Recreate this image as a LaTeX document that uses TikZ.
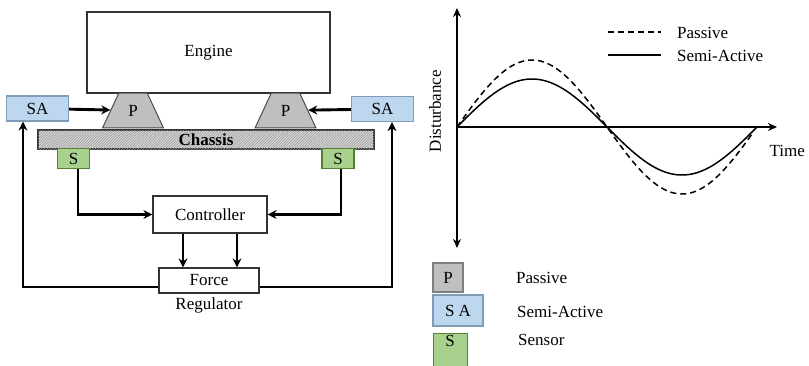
\documentclass[tikz,border=0pt]{standalone}
\usepackage{fontspec}
\setmainfont{Liberation Serif}
\usetikzlibrary{arrows.meta,shapes.geometric,patterns.meta}
\definecolor{pgray}{HTML}{BFBFBF}
\definecolor{pgrayline}{HTML}{7F7F7F}
\definecolor{sablue}{HTML}{BDD7EE}
\definecolor{sablueline}{HTML}{7F9DB9}
\definecolor{sgreen}{HTML}{A9D18E}
\definecolor{sgreenline}{HTML}{548235}
\definecolor{chassisfill}{HTML}{D4D4D4}
\begin{document}
\begin{tikzpicture}[x=1pt,y=-1pt,
  font=\fontsize{17}{20}\selectfont,
  box/.style={draw=black!80,line width=1.2pt,fill=white,inner sep=0pt,minimum width=#1},
  mount/.style={trapezium,trapezium angle=65,inner xsep=9.5pt,inner ysep=11.8pt,
    draw=black!70,line width=1pt,fill=pgray},
  sabox/.style={draw=sablueline,line width=1.2pt,fill=sablue,inner sep=0pt,
    minimum width=62pt,minimum height=25pt},
  sensbox/.style={draw=sgreenline,line width=1.2pt,fill=sgreen,inner sep=0pt,
    minimum width=32pt,minimum height=20pt},
  arr/.style={line width=2.9pt,-{Stealth[length=9pt,width=9pt]}},
  axis/.style={line width=1.8pt,-{Stealth[length=9pt,width=8pt]}},
  curve/.style={line width=1.5pt}]
\useasboundingbox (0,0) rectangle (809,365);

% ---- suspension block diagram ----
\node[box=243pt,minimum height=81pt] (engine) at (208.5,52.5) {Engine};
\node[draw=black!80,line width=1.2pt,inner sep=0pt,minimum width=336pt,minimum height=19pt,
  fill=chassisfill,
  postaction={pattern={Lines[angle=45,distance=1.9pt,line width=0.5pt]},pattern color=black!40}]
  (chassis) at (206,139.5) {};
\node[font=\fontsize{17}{20}\selectfont\bfseries] (chassislabel) at (chassis) {Chassis};
\node[mount] (pL) at (133,110.5) {P};
\node[mount] (pR) at (285.5,110.5) {P};
\node[sabox] (saL) at (37.5,108.5) {SA};
\node[sabox] (saR) at (382.5,109) {SA};
\node[sensbox] (sL) at (73.5,158.5) {S};
\node[sensbox] (sR) at (338,158.5) {S};
\node[box=114pt,minimum height=37pt] (ctrl) at (210,214.5) {Controller};
\node[box=100pt,minimum height=25pt] (force) at (209,280.5) {Force};
\node (reglabel) at (209,305) {Regulator};

\draw[arr] (saL) -- (pL);
\draw[arr] (saR) -- (pR);
\draw[arr] ([xshift=4.5pt]sL.south) |- (ctrl.west);
\draw[arr] ([xshift=3pt]sR.south) |- (ctrl.east);
\draw[arr] ([xshift=-27pt]ctrl.south) -- ([xshift=-27pt]ctrl.south |- force.north);
\draw[arr] ([xshift=27pt]ctrl.south) -- ([xshift=27pt]ctrl.south |- force.north);
\draw[arr] ([yshift=-6.5pt]force.west) -| ([xshift=-14.5pt]saL.south);
\draw[arr] ([yshift=-6.5pt]force.east) -| ([xshift=9.5pt]saR.south);

% ---- disturbance vs. time graph ----
\coordinate (origin) at (457,127);
\coordinate (ytop) at (457,8);
\coordinate (ybot) at (457,248);
\coordinate (xend) at (777,127);
\draw[axis] (origin) -- (ytop);
\draw[axis] (origin) -- (ybot);
\draw[axis] (origin) -- (xend);
\node[anchor=west] (timelabel) at (766,151) {Time};
\node[rotate=90] (distlabel) at (435,111) {Disturbance};

\draw[curve,dash pattern=on 6pt off 4pt] plot[domain=0:296,samples=120]
  ({457+\x},{127-67*sin(\x*1.2)});
\draw[curve] plot[domain=0:300,samples=120]
  ({457+\x},{127-48*sin(\x*1.2)});

% curve legend
\coordinate (lgA) at (608,32);
\coordinate (lgB) at (661,32);
\coordinate (lgC) at (608,55);
\coordinate (lgD) at (661,55);
\draw[curve,dash pattern=on 6pt off 4pt] (lgA) -- (lgB);
\draw[curve] (lgC) -- (lgD);
\node[anchor=west,inner sep=0pt] (lgpas) at (677,33) {Passive};
\node[anchor=west,inner sep=0pt] (lgsemi) at (677,56) {Semi-Active};

% symbol legend
\node[draw=pgrayline,line width=1.2pt,fill=pgray,inner sep=0pt,
  minimum width=30pt,minimum height=29pt] (keyP) at (448,277.5) {P};
\node[draw=sablueline,line width=1.2pt,fill=sablue,inner sep=0pt,
  minimum width=50pt,minimum height=31pt] (keySA) at (458,310.5) {S A};
\node[draw=sgreenline,line width=1.2pt,fill=sgreen,inner sep=0pt,
  minimum width=34pt,minimum height=40pt,anchor=north west] (keyS) at (433,333) {};
\node (keySlabel) at (450,341) {S};
\node[anchor=west,inner sep=0pt] (keyPtext) at (516,278) {Passive};
\node[anchor=west,inner sep=0pt] (keySAtext) at (517,312) {Semi-Active};
\node[anchor=west,inner sep=0pt] (keyStext) at (518,340) {Sensor};
\end{tikzpicture}
\end{document}
